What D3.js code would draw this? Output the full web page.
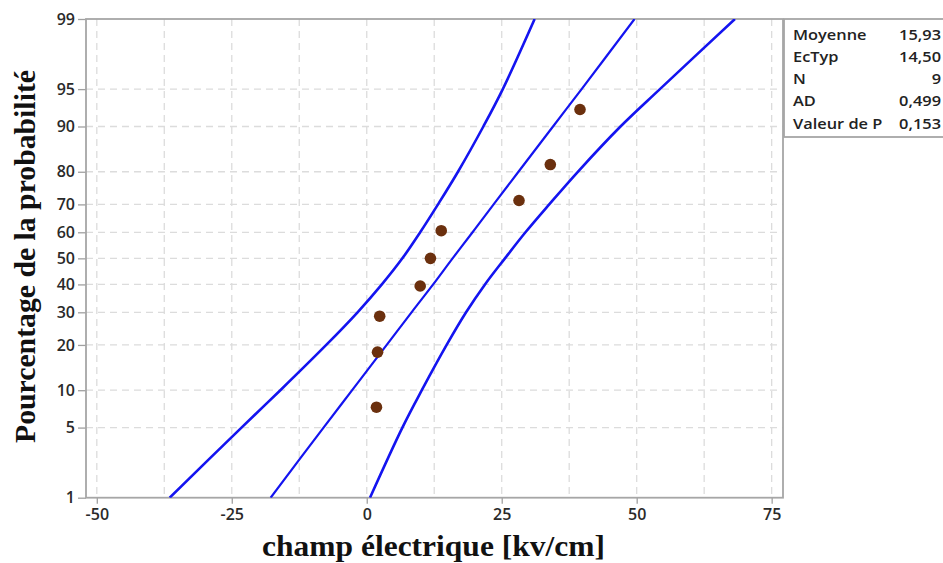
<!DOCTYPE html>
<html>
<head>
<meta charset="utf-8">
<script src="https://cdn.jsdelivr.net/npm/d3@7/dist/d3.min.js"></script>
<style>
  body { margin: 0; background: #fff; }
  svg { display: block; }
</style>
</head>
<body>
<div id="chart"></div>
<script>
// values
var pointsX = [1.8, 2.0, 2.4, 9.9, 11.8, 13.8, 28.2, 34.0, 39.5];
var pointsP = [7.4, 18.1, 28.7, 39.4, 50, 60.6, 71.3, 81.9, 92.6];

var probLevels = [1, 5, 10, 20, 30, 40, 50, 60, 70, 80, 90, 95, 99];
var lowerBand = [-36.5, -23.2, -16.0, -7.5, -1.7, 2.8, 6.6, 9.9, 13.2, 16.9, 21.6, 25.2, 31.1];
var fitLine = [-17.8, -8.0, -2.7, 3.7, 8.3, 12.3, 15.9, 19.6, 23.5, 28.1, 34.5, 39.8, 49.6];
var upperBand = [0.6, 6.6, 10.2, 14.8, 18.4, 21.9, 25.6, 29.4, 33.8, 39.1, 47.0, 54.3, 68.2];

var xTicks = [-50, -25, 0, 25, 50, 75];
var xGrid = [-50, -37.5, -25, -12.5, 0, 12.5, 25, 37.5, 50, 62.5, 75];
var yTicks = [1, 5, 10, 20, 30, 40, 50, 60, 70, 80, 90, 95, 99];

var statLabels = ['Moyenne', 'EcTyp', 'N', 'AD', 'Valeur de P'];
var statValues = ['15,93', '14,50', '9', '0,499', '0,153'];

var w = 943;
var h = 563;
var pLeft = 86, pTop = 19, pRight = 783, pBottom = 497.7;

// inverse normal CDF (Acklam)
function qnorm(p) {
  var a = [-39.69683028665376, 220.9460984245205, -275.9285104469687, 138.3577518672690, -30.66479806614716, 2.506628277459239];
  var b = [-54.47609879822406, 161.5858368580409, -155.6989798598866, 66.80131188771972, -13.28068155288572];
  var c = [-0.007784894002430293, -0.3223964580411365, -2.400758277161838, -2.549732539343734, 4.374664141464968, 2.938163982698783];
  var d = [0.007784695709041462, 0.3224671290700398, 2.445134137142996, 3.754408661907416];
  var q, r;
  if (p < 0.02425) {
    q = Math.sqrt(-2 * Math.log(p));
    return (((((c[0] * q + c[1]) * q + c[2]) * q + c[3]) * q + c[4]) * q + c[5]) /
      ((((d[0] * q + d[1]) * q + d[2]) * q + d[3]) * q + 1);
  } else if (p > 1 - 0.02425) {
    q = Math.sqrt(-2 * Math.log(1 - p));
    return -(((((c[0] * q + c[1]) * q + c[2]) * q + c[3]) * q + c[4]) * q + c[5]) /
      ((((d[0] * q + d[1]) * q + d[2]) * q + d[3]) * q + 1);
  }
  q = p - 0.5;
  r = q * q;
  return (((((a[0] * r + a[1]) * r + a[2]) * r + a[3]) * r + a[4]) * r + a[5]) * q /
    (((((b[0] * r + b[1]) * r + b[2]) * r + b[3]) * r + b[4]) * r + 1);
}

var x = d3.scaleLinear().domain([-52, 77.1]).range([pLeft, pRight]);
var z = d3.scaleLinear().domain([qnorm(0.01), qnorm(0.99)]).range([pBottom, pTop]);
function y(p) { return z(qnorm(p / 100)); }

var svg = d3
  .select('#chart')
  .append('svg')
  .attr('width', w)
  .attr('height', h);

svg.append('clipPath').attr('id', 'plotClip')
  .append('rect')
  .attr('x', pLeft).attr('y', pTop)
  .attr('width', pRight - pLeft).attr('height', pBottom - pTop);

// grid
svg.selectAll('.vgrid')
  .data(xGrid)
  .enter()
  .append('line')
  .attr('class', 'vgrid')
  .attr('x1', function (d) { return x(d); })
  .attr('x2', function (d) { return x(d); })
  .attr('y1', pTop)
  .attr('y2', pBottom)
  .attr('stroke', '#dcdcdc')
  .attr('stroke-width', 1.3)
  .attr('stroke-dasharray', '7,5');

svg.selectAll('.hgrid')
  .data(yTicks.slice(1, -1))
  .enter()
  .append('line')
  .attr('class', 'hgrid')
  .attr('x1', pLeft)
  .attr('x2', pRight)
  .attr('y1', function (d) { return y(d); })
  .attr('y2', function (d) { return y(d); })
  .attr('stroke', '#dcdcdc')
  .attr('stroke-width', 1.3)
  .attr('stroke-dasharray', '7,5');

// axes
var xAxis = svg.append('g')
  .attr('transform', 'translate(0,' + pBottom + ')')
  .call(d3.axisBottom(x)
    .tickValues(xTicks)
    .tickFormat(function (d) { return String(d); })
    .tickSize(6).tickPadding(5).tickSizeOuter(0));

var yAxis = svg.append('g')
  .attr('transform', 'translate(' + pLeft + ',0)')
  .call(d3.axisLeft(z)
    .tickValues(yTicks.map(function (p) { return qnorm(p / 100); }))
    .tickFormat(function (d, i) { return yTicks[i]; })
    .tickSize(8).tickPadding(3).tickSizeOuter(0));

[xAxis, yAxis].forEach(function (g) {
  g.select('.domain').remove();
  g.selectAll('.tick line').attr('stroke', '#a0a0a0').attr('stroke-width', 1.3);
  g.selectAll('.tick text')
    .attr('font-family', '"Open Sans", sans-serif')
    .attr('font-weight', 600)
    .attr('font-size', '16px')
    .attr('fill', '#2a2a2a');
});

// frame
svg.append('rect')
  .attr('x', pLeft).attr('y', pTop)
  .attr('width', pRight - pLeft).attr('height', pBottom - pTop)
  .attr('fill', 'none')
  .attr('stroke', '#a6a6a6')
  .attr('stroke-width', 1.8);

// bands and fitted line
var plot = svg.append('g').attr('clip-path', 'url(#plotClip)');
var curve = d3.line()
  .x(function (d) { return x(d[0]); })
  .y(function (d) { return y(d[1]); })
  .curve(d3.curveCatmullRom);

[lowerBand, fitLine, upperBand].forEach(function (series, k) {
  plot.append('path')
    .datum(series.map(function (v, i) { return [v, probLevels[i]]; }))
    .attr('d', curve)
    .attr('fill', 'none')
    .attr('stroke', '#1414f0')
    .attr('stroke-width', k == 1 ? 2.2 : 2.6);
});

// data points
plot.selectAll('.pt')
  .data(pointsX)
  .enter()
  .append('circle')
  .attr('class', 'pt')
  .attr('cx', function (d) { return x(d); })
  .attr('cy', function (d, i) { return y(pointsP[i]); })
  .attr('r', 5.8)
  .attr('fill', '#6b300e');

// stats box
svg.append('rect')
  .attr('x', pRight + 1).attr('y', pTop)
  .attr('width', 170).attr('height', 118)
  .attr('fill', 'none')
  .attr('stroke', '#a6a6a6')
  .attr('stroke-width', 1.8);

svg.selectAll('.statLabel')
  .data(statLabels)
  .enter()
  .append('text')
  .attr('class', 'statLabel')
  .text(function (d) { return d; })
  .attr('transform', function (d, i) {
    return 'translate(793,' + (39.5 + i * 22.3) + ') scale(1.17,1)';
  })
  .attr('font-family', '"Open Sans", sans-serif')
  .attr('font-weight', 600)
  .attr('font-size', '14px')
  .attr('fill', '#222');

svg.selectAll('.statValue')
  .data(statValues)
  .enter()
  .append('text')
  .attr('class', 'statValue')
  .text(function (d) { return d; })
  .attr('transform', function (d, i) {
    return 'translate(941,' + (39.5 + i * 22.3) + ') scale(1.17,1)';
  })
  .attr('text-anchor', 'end')
  .attr('font-family', '"Open Sans", sans-serif')
  .attr('font-weight', 600)
  .attr('font-size', '14px')
  .attr('fill', '#222');

// axis titles
svg.append('text')
  .text('champ électrique [kv/cm]')
  .attr('x', 433.5)
  .attr('y', 556)
  .attr('text-anchor', 'middle')
  .attr('textLength', 343)
  .attr('lengthAdjust', 'spacingAndGlyphs')
  .attr('font-family', '"Liberation Serif", "Times New Roman", serif')
  .attr('font-weight', 'bold')
  .attr('font-size', '30px')
  .attr('fill', '#111');

svg.append('text')
  .text('Pourcentage de la probabilité')
  .attr('transform', 'translate(35,256.5) rotate(-90)')
  .attr('text-anchor', 'middle')
  .attr('textLength', 373)
  .attr('lengthAdjust', 'spacingAndGlyphs')
  .attr('font-family', '"Liberation Serif", "Times New Roman", serif')
  .attr('font-weight', 'bold')
  .attr('font-size', '30px')
  .attr('fill', '#111');
</script>
</body>
</html>
